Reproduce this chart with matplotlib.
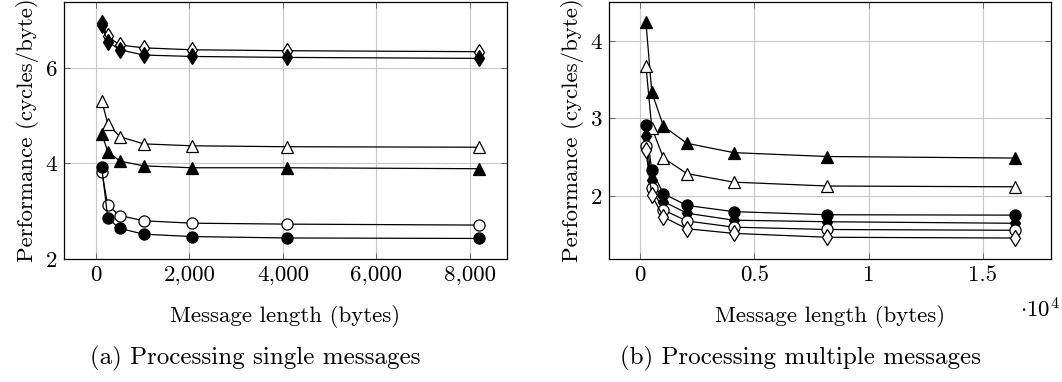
import matplotlib
matplotlib.use('Agg')
import matplotlib.pyplot as plt
from matplotlib.ticker import FuncFormatter, FixedLocator

plt.rcParams['font.family'] = 'serif'
plt.rcParams['font.serif'] = ['cmr10']
plt.rcParams['mathtext.fontset'] = 'cm'
plt.rcParams['axes.formatter.use_mathtext'] = True

# (a) single messages
len_single = [128, 256, 512, 1024, 2048, 4096, 8192]
single_open_diamond = [6.94, 6.66, 6.48, 6.42, 6.38, 6.36, 6.34]
single_fill_diamond = [6.90, 6.55, 6.38, 6.27, 6.24, 6.22, 6.20]
single_open_tri = [5.31, 4.83, 4.56, 4.41, 4.37, 4.35, 4.34]
single_fill_tri = [4.62, 4.25, 4.05, 3.95, 3.91, 3.91, 3.89]
single_open_circ = [3.83, 3.12, 2.91, 2.80, 2.75, 2.73, 2.71]
single_fill_circ = [3.92, 2.85, 2.64, 2.52, 2.47, 2.44, 2.43]

# (b) multiple messages
len_multi = [256, 512, 1024, 2048, 4096, 8192, 16384]
multi_fill_tri = [4.24, 3.34, 2.90, 2.68, 2.56, 2.51, 2.49]
multi_open_tri = [3.68, 2.88, 2.49, 2.29, 2.18, 2.13, 2.12]
multi_fill_circ = [2.91, 2.33, 2.03, 1.88, 1.80, 1.76, 1.755]
multi_fill_diamond = [2.77, 2.21, 1.93, 1.78, 1.69, 1.67, 1.65]
multi_open_circ = [2.64, 2.10, 1.82, 1.68, 1.60, 1.57, 1.56]
multi_open_diamond = [2.59, 2.01, 1.73, 1.58, 1.52, 1.47, 1.46]

# marker, filled?, size
styles = {
    'open_diamond': ('d', False, 8),
    'fill_diamond': ('d', True, 8),
    'open_tri': ('^', False, 8),
    'fill_tri': ('^', True, 8),
    'open_circ': ('o', False, 8),
    'fill_circ': ('o', True, 8),
}


def draw(ax, x, y, key):
    m, filled, ms = styles[key]
    ax.plot(x, y, color='black', lw=0.9, marker=m, markersize=ms,
            markerfacecolor='black' if filled else 'white',
            markeredgecolor='black', markeredgewidth=0.9, clip_on=False, zorder=3)


def style_axes(ax):
    ax.grid(True, color='#c8c8c8', lw=0.8)
    ax.set_axisbelow(True)
    ax.tick_params(direction='in', length=4, width=0.6, color='#555555',
                   top=True, right=True, labelsize=16.5, pad=5)
    for s in ax.spines.values():
        s.set_linewidth(0.9)
    ax.set_xlabel('Message length (bytes)', fontsize=16.5, labelpad=14)
    ax.set_ylabel('Performance (cycles/byte)', fontsize=16.5, labelpad=5)


fig = plt.figure(figsize=(10.62, 3.82), dpi=100)
ax1 = fig.add_axes([64 / 1062, 123 / 382, 443 / 1062, 257 / 382])
ax2 = fig.add_axes([609 / 1062, 123 / 382, 442 / 1062, 257 / 382])

# single
draw(ax1, len_single, single_open_diamond, 'open_diamond')
draw(ax1, len_single, single_fill_diamond, 'fill_diamond')
draw(ax1, len_single, single_open_tri, 'open_tri')
draw(ax1, len_single, single_fill_tri, 'fill_tri')
draw(ax1, len_single, single_open_circ, 'open_circ')
draw(ax1, len_single, single_fill_circ, 'fill_circ')
ax1.set_xlim(-680, 8790)
ax1.set_ylim(2.0, 7.38)
ax1.xaxis.set_major_locator(FixedLocator([0, 2000, 4000, 6000, 8000]))
ax1.yaxis.set_major_locator(FixedLocator([2, 4, 6]))
ax1.xaxis.set_major_formatter(FuncFormatter(lambda v, p: f'{int(v):,}'))
ax1.yaxis.set_major_formatter(FuncFormatter(lambda v, p: f'{int(v)}'))
style_axes(ax1)

# multiple
draw(ax2, len_multi, multi_fill_tri, 'fill_tri')
draw(ax2, len_multi, multi_open_tri, 'open_tri')
draw(ax2, len_multi, multi_fill_circ, 'fill_circ')
draw(ax2, len_multi, multi_fill_diamond, 'fill_diamond')
draw(ax2, len_multi, multi_open_circ, 'open_circ')
draw(ax2, len_multi, multi_open_diamond, 'open_diamond')
ax2.set_xlim(-1360, 17980)
ax2.set_ylim(1.19, 4.5)
ax2.xaxis.set_major_locator(FixedLocator([0, 5000, 10000, 15000]))
ax2.yaxis.set_major_locator(FixedLocator([2, 3, 4]))
ax2.xaxis.set_major_formatter(FuncFormatter(lambda v, p: f'{v / 1e4:g}'))
ax2.yaxis.set_major_formatter(FuncFormatter(lambda v, p: f'{int(v)}'))
style_axes(ax2)
fig.text(1040 / 1062, 1 - 309 / 382, r'$\cdot 10^4$', fontsize=16.5,
         ha='center', va='center')

fig.text(255 / 1062, 1 - 358 / 382, '(a) Processing single messages',
         fontsize=18, ha='center', va='center')
fig.text(800 / 1062, 1 - 358 / 382, '(b) Processing multiple messages',
         fontsize=18, ha='center', va='center')

fig.savefig('out.png', dpi=100)
